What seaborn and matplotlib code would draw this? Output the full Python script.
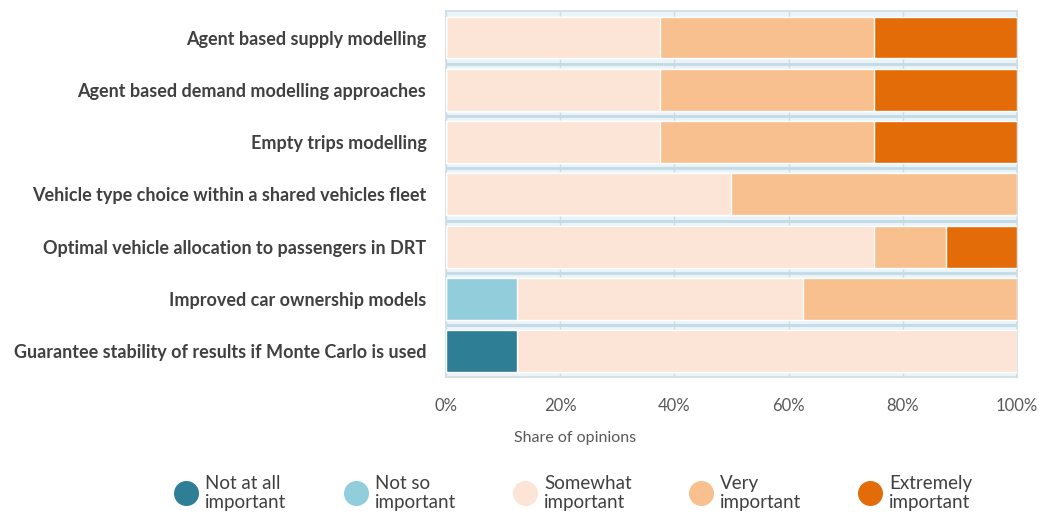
import matplotlib
matplotlib.use("Agg")
import matplotlib.pyplot as plt
from matplotlib.lines import Line2D
import seaborn as sns
import numpy as np
import pandas as pd

categories = [
    "Agent based supply modelling",
    "Agent based demand modelling approaches",
    "Empty trips modelling",
    "Vehicle type choice within a shared vehicles fleet",
    "Optimal vehicle allocation to passengers in DRT",
    "Improved car ownership models",
    "Guarantee stability of results if Monte Carlo is used",
]
not_at_all = [0, 0, 0, 0, 0, 0, 12.5]
not_so = [0, 0, 0, 0, 0, 12.5, 0]
somewhat = [37.5, 37.5, 37.5, 50, 75, 50, 87.5]
very = [37.5, 37.5, 37.5, 50, 12.5, 37.5, 0]
extremely = [25, 25, 25, 0, 12.5, 0, 0]

series_names = ["Not at all\nimportant", "Not so\nimportant", "Somewhat\nimportant",
                "Very\nimportant", "Extremely\nimportant"]
series_values = [not_at_all, not_so, somewhat, very, extremely]
colors = ["#2E7F96", "#92CDDC", "#FCE4D6", "#F8BF8F", "#E36C09"]

sns.set_theme(style="white")
plt.rcParams["font.family"] = ["Lato", "DejaVu Sans"]

fig = plt.figure(figsize=(10.39, 5.19), dpi=100)
ax = fig.add_axes([0.429, 0.273, 0.55, 0.705])
ax.set_facecolor("#EAF4F8")

cum = np.cumsum(np.array(series_values), axis=0)
for i in range(len(series_values) - 1, -1, -1):
    df = pd.DataFrame({"cat": categories, "val": cum[i]})
    sns.barplot(data=df, y="cat", x="val", orient="h", color=colors[i],
                width=0.8, ax=ax, saturation=1, zorder=3)

ax.set_xlim(0, 100)
ax.set_ylim(len(categories) - 0.5, -0.5)
ax.set_xticks(np.arange(0, 101, 20))
ax.set_xticklabels([f"{t}%" for t in range(0, 101, 20)], color="#595959", fontsize=12)
ax.tick_params(axis="x", length=0, pad=15)
ax.tick_params(axis="y", length=0, pad=14)
for lbl in ax.get_yticklabels():
    lbl.set_fontweight("bold")
    lbl.set_fontsize(13)
    lbl.set_color("#404040")
ax.set_xlabel("")
ax.set_ylabel("")
ax.grid(axis="x", color="#C9DDE6", linewidth=1, zorder=1)
for y in np.arange(0.5, len(categories) - 0.5, 1):
    ax.axhline(y, color="#C2DBE6", linewidth=2, zorder=1)
for s in ax.spines.values():
    s.set_color("#CFDDE3")
    s.set_linewidth(1.2)

fig.text(0.553, 0.157, "Share of opinions", ha="center", va="center",
         fontsize=11.5, color="#595959")

handles = [Line2D([0], [0], marker="o", linestyle="", markersize=17,
                  markerfacecolor=c, markeredgecolor=c) for c in colors]
fig.legend(handles, series_names, loc="center", bbox_to_anchor=(0.553, 0.05),
           ncol=5, frameon=False, fontsize=13.5, labelcolor="#404040",
           columnspacing=3.2, handletextpad=0.5, handlelength=1.0)

fig.savefig("out.png", dpi=100)
